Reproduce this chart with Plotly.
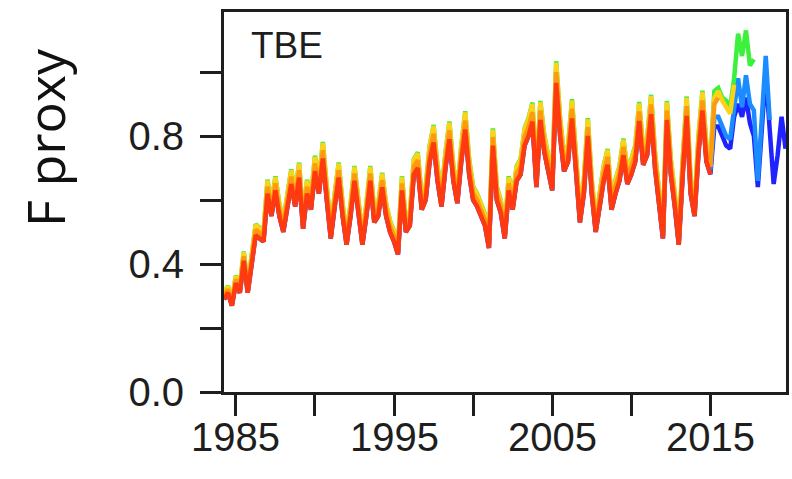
import plotly.graph_objects as go

# ---------------- data ----------------
start_year = 1984.25
step = 0.25

# terminal (red) run, quarterly, 1984.25 .. 2015.0
base_vals = [
    0.29, 0.31, 0.27,            # 1984 Q2-Q4
    0.34, 0.31, 0.41, 0.31,      # 1985
    0.40, 0.49, 0.48, 0.47,      # 1986
    0.62, 0.55, 0.63, 0.55,      # 1987
    0.50, 0.58, 0.65, 0.58,      # 1988
    0.67, 0.51, 0.62, 0.57,      # 1989
    0.69, 0.62, 0.73, 0.60,      # 1990
    0.48, 0.58, 0.67, 0.55,      # 1991
    0.46, 0.55, 0.66, 0.56,      # 1992
    0.46, 0.55, 0.66, 0.53,      # 1993
    0.55, 0.64, 0.55, 0.50,      # 1994
    0.47, 0.43, 0.63, 0.50,      # 1995
    0.52, 0.68, 0.70, 0.57,      # 1996
    0.60, 0.72, 0.78, 0.66,      # 1997
    0.58, 0.70, 0.79, 0.66,      # 1998
    0.59, 0.72, 0.82, 0.68,      # 1999
    0.60, 0.58, 0.55, 0.52,      # 2000
    0.45, 0.77, 0.60, 0.56,      # 2001
    0.48, 0.63, 0.57, 0.66,      # 2002
    0.68, 0.77, 0.80, 0.845,     # 2003
    0.64, 0.85, 0.75, 0.68,      # 2004
    0.63, 0.966, 0.80, 0.69,     # 2005
    0.72, 0.855, 0.70, 0.53,     # 2006
    0.62, 0.80, 0.62, 0.50,      # 2007
    0.58, 0.66, 0.71, 0.57,      # 2008
    0.62, 0.66, 0.74, 0.65,      # 2009
    0.68, 0.72, 0.847, 0.71,     # 2010
    0.74, 0.868, 0.70, 0.60,     # 2011
    0.48, 0.85, 0.68, 0.58,      # 2012
    0.46, 0.68, 0.863, 0.62,     # 2013
    0.55, 0.75, 0.88, 0.72,      # 2014
    0.68,                        # 2015 Q1
]

run_names = ["run 1", "run 2", "run 3", "run 4", "run 5", "run 6"]
run_colors = ["#1f24ff", "#1a8cff", "#3cf03c", "#ffd21a", "#ff9a10", "#ff3a10"]
run_levels = [1.0, 1.02, 1.07, 1.065, 1.035, 1.0]
# quarterly values after 2015.0 for each run
run_tails = [
    [0.83, 0.83, 0.80, 0.77, 0.76, 0.86, 0.90, 0.86, 0.92, 0.84, 0.80,
     0.64, 0.82, 1.00, 0.82, 0.65, 0.74, 0.86, 0.76],
    [0.86, 0.86, 0.83, 0.80, 0.79, 0.90, 0.98, 0.89, 0.99, 0.90, 0.88,
     0.66, 0.86, 1.05, 0.85],
    [0.94, 0.95, 0.92, 0.91, 0.89, 0.98, 1.12, 1.05, 1.13, 1.02, 1.04],
    [0.92, 0.94, 0.91, 0.89, 0.87, 0.96],
    [0.90, 0.92],
    [],
]

x_tick_vals = [1985, 1990, 1995, 2000, 2005, 2010, 2015]
x_label_vals = [1985, 1995, 2005, 2015]
x_label_text = ["1985", "1995", "2005", "2015"]
y_tick_vals = [0.0, 0.2, 0.4, 0.6, 0.8, 1.0]
y_tick_text = ["0.0", "", "0.4", "", "0.8", ""]

# ---------------- figure ----------------
fig = go.Figure()
for name, color, level, tail in zip(run_names, run_colors, run_levels, run_tails):
    ys = [v * level for v in base_vals] + tail
    xs = [start_year + step * i for i in range(len(ys))]
    fig.add_trace(go.Scatter(x=xs, y=ys, mode="lines", name=name,
                             line=dict(color=color, width=4.5),
                             showlegend=False))

W, H = 792, 479
L, R, T, B = 224, 3, 12, 87
pw, ph = W - L - R, H - T - B

def px_x(p):
    return (p - L) / pw

def px_y(p):
    return (H - B - p) / ph

axis_font = dict(family="Liberation Sans, Arial, sans-serif", size=40, color="#1e1e1e")

annotations = [
    dict(text="F proxy", xref="paper", yref="paper",
         x=px_x(43), y=px_y(137), xanchor="center", yanchor="middle",
         textangle=-90, showarrow=False,
         font=dict(family="Open Sans, sans-serif", size=52, color="#111")),
    dict(text="TBE", xref="paper", yref="paper",
         x=px_x(249), y=px_y(45), xanchor="left", yanchor="middle",
         showarrow=False,
         font=dict(family="Liberation Sans, Arial, sans-serif", size=37, color="#1e1e1e")),
]
for xv, txt in zip(x_label_vals, x_label_text):
    annotations.append(dict(text=txt, xref="x", yref="paper", x=xv, y=px_y(437),
                            xanchor="center", yanchor="middle", showarrow=False,
                            font=axis_font))

fig.update_layout(
    width=W, height=H,
    margin=dict(l=L, r=R, t=T, b=B),
    paper_bgcolor="white", plot_bgcolor="white",
    xaxis=dict(range=[1984.25, 2019.78], tickmode="array",
               tickvals=x_tick_vals, ticktext=[""] * len(x_tick_vals),
               ticks="outside", ticklen=21, tickwidth=2.5, tickcolor="#1e1e1e",
               showline=True, linewidth=3, linecolor="#1e1e1e", mirror=True,
               showgrid=False, zeroline=False, showticklabels=False),
    yaxis=dict(range=[0, 1.1875], tickmode="array",
               tickvals=y_tick_vals, ticktext=y_tick_text,
               ticks="outside", ticklen=21, tickwidth=2.5, tickcolor="#1e1e1e",
               showline=True, linewidth=3, linecolor="#1e1e1e", mirror=True,
               showgrid=False, zeroline=False, tickfont=axis_font,
               ticklabelstandoff=8),
    annotations=annotations,
)

fig.write_html("out.html")
